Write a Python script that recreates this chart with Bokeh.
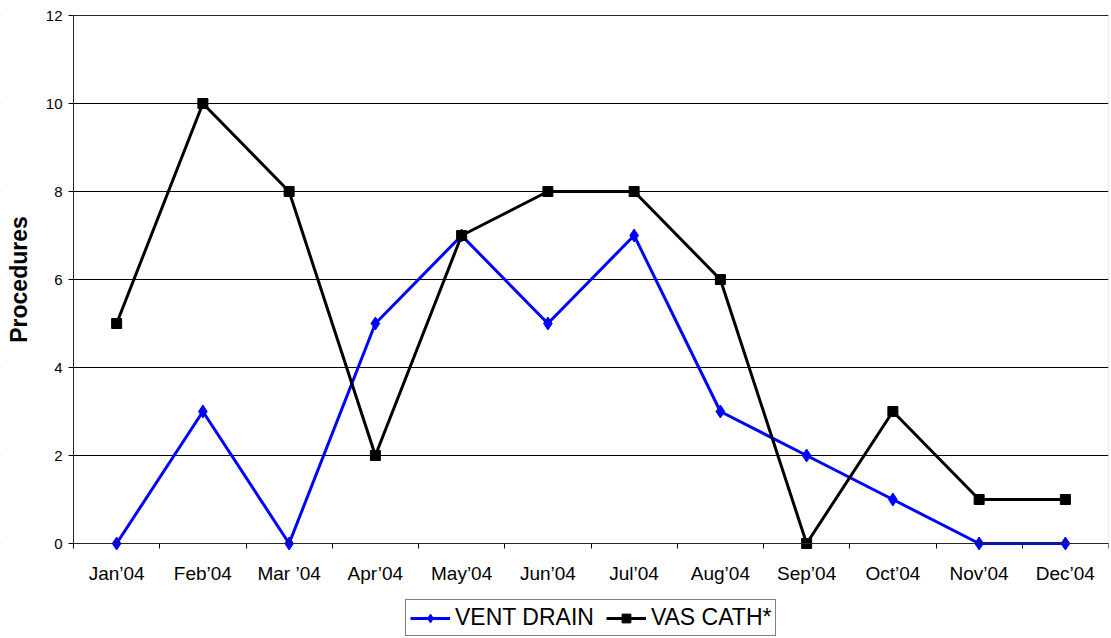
import math
from bokeh.plotting import figure
from bokeh.models import (FixedTicker, Legend, LegendItem, ColumnDataSource,
                          BoxAnnotation, Label)
from bokeh.embed import file_html
from bokeh.resources import INLINE

months = ["Jan\u201904", "Feb\u201904", "Mar \u201904", "Apr\u201904", "May\u201904", "Jun\u201904",
          "Jul\u201904", "Aug\u201904", "Sep\u201904", "Oct\u201904", "Nov\u201904", "Dec\u201904"]
vent_drain = [0, 3, 0, 5, 7, 5, 7, 3, 2, 1, 0, 0]
vas_cath = [5, 10, 8, 2, 7, 8, 8, 6, 0, 3, 1, 1]
y_ticks = [0, 2, 4, 6, 8, 10, 12]
y_title = "Procedures"

N = len(months)
xs = [i + 0.5 for i in range(N)]
src = ColumnDataSource(dict(x=xs, vd=vent_drain, vc=vas_cath))

# layout (pixels)
W, H = 1110, 637
TOP, RIGHT = 15, 2
LEFT_GAP = 73         # room left of the value axis
PLOT_H = 528          # height of the 0..12 plotting area
Y_MAX = 12
py = PLOT_H / Y_MAX
px = (W - RIGHT - LEFT_GAP) / N
y_end = Y_MAX + TOP / py
y_start = y_end - H / py
x_start = -LEFT_GAP / px

p = figure(width=W, height=H, output_backend="svg", toolbar_location=None,
           x_range=(x_start, N), y_range=(y_start, y_end),
           min_border_left=0, min_border_right=RIGHT, min_border_top=0, min_border_bottom=0)
p.background_fill_color = "white"
p.border_fill_color = "white"
p.outline_line_color = None

p.xaxis.ticker = FixedTicker(ticks=xs, minor_ticks=list(range(N + 1)))
p.xaxis.fixed_location = 0
p.xaxis.bounds = (0, N)
p.xaxis.major_label_overrides = {x: m for x, m in zip(xs, months)}
p.xaxis.major_tick_out = 0
p.xaxis.major_tick_in = 0
p.xaxis.minor_tick_out = 5
p.xaxis.minor_tick_in = 0
p.xaxis.minor_tick_line_color = "black"
p.xaxis.axis_line_color = "black"
p.xaxis.major_label_text_font = "Liberation Sans"
p.xaxis.major_label_text_font_size = "19px"
p.xaxis.major_label_text_color = "black"
p.xaxis.major_label_standoff = 14

p.yaxis.ticker = FixedTicker(ticks=y_ticks)
p.yaxis.fixed_location = 0
p.yaxis.bounds = (0, Y_MAX)
p.yaxis.major_tick_out = 5
p.yaxis.major_tick_in = 0
p.yaxis.minor_tick_out = 0
p.yaxis.minor_tick_in = 0
p.yaxis.axis_line_color = "black"
p.yaxis.major_tick_line_color = "black"
p.yaxis.major_label_text_font = "Liberation Sans"
p.yaxis.major_label_text_font_size = "15px"
p.yaxis.major_label_text_color = "black"
p.yaxis.major_label_standoff = 6

p.xgrid.grid_line_color = None
p.ygrid.ticker = FixedTicker(ticks=y_ticks)
p.ygrid.grid_line_color = "black"
p.ygrid.grid_line_width = 1

# hide grid lines left of the value axis
mask = BoxAnnotation(left=x_start - 1, right=0, fill_color="white", fill_alpha=1,
                     line_color=None, level="underlay")
p.add_layout(mask)

border = BoxAnnotation(left=0, right=N, bottom=0, top=Y_MAX,
                       fill_alpha=0, line_color="#808080", line_width=1)
p.add_layout(border)

ylab = Label(x=(18.5 - LEFT_GAP) / px, y=Y_MAX / 2, text=y_title, angle=math.pi / 2,
             text_align="center", text_baseline="middle",
             text_font="Liberation Sans", text_font_style="bold",
             text_font_size="23px", text_color="black")
p.add_layout(ylab)

l1 = p.line("x", "vd", source=src, line_color="#0000ff", line_width=3)
m1 = p.scatter("x", "vd", source=src, marker="diamond", size=13, fill_color="#0000ff", line_color="#0000ff")
l2 = p.line("x", "vc", source=src, line_color="black", line_width=3)
m2 = p.scatter("x", "vc", source=src, marker="square", size=10, fill_color="black", line_color="black")

legend = Legend(items=[LegendItem(label="VENT DRAIN", renderers=[l1, m1]),
                       LegendItem(label="VAS CATH*", renderers=[l2, m2])],
                orientation="horizontal", location=(405, 1))
legend.label_text_font = "Liberation Sans"
legend.label_text_font_size = "23px"
legend.label_text_color = "black"
legend.border_line_color = "black"
legend.border_line_width = 1
legend.background_fill_color = "white"
legend.background_fill_alpha = 1
legend.glyph_width = 40
legend.glyph_height = 22
legend.padding = 4
legend.margin = 0
legend.spacing = 12
legend.label_standoff = 5
legend.label_height = 22
p.add_layout(legend, "center")

open("out.html", "w").write(file_html(p, INLINE))
